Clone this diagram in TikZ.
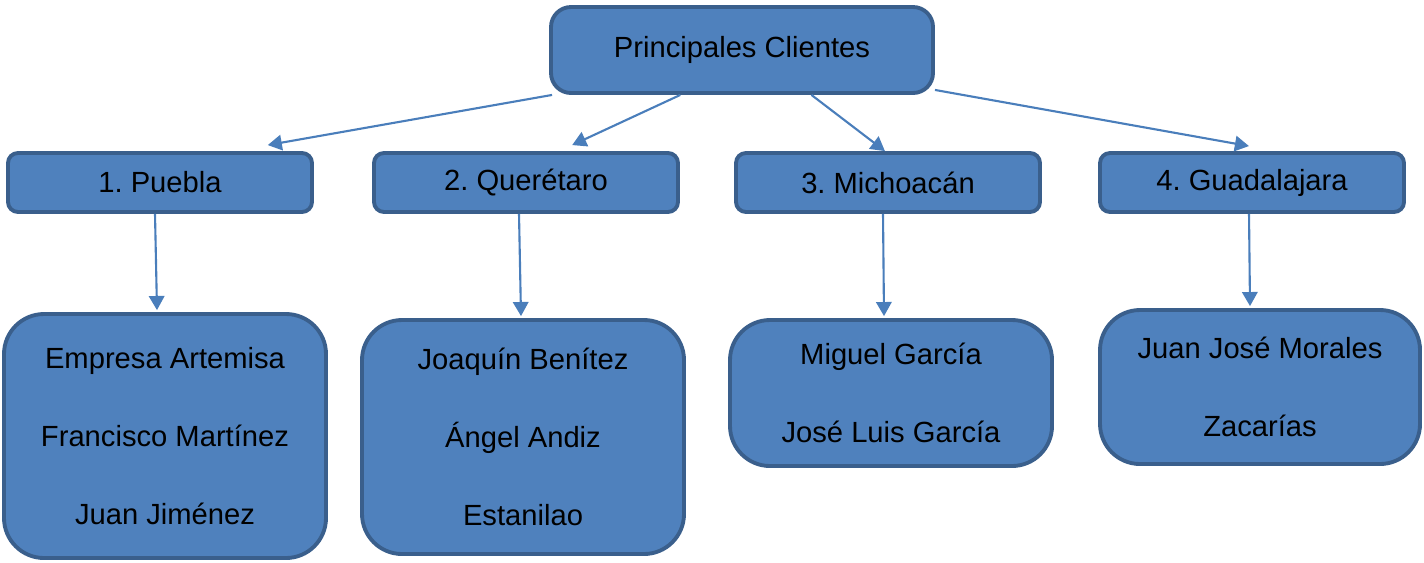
\documentclass[tikz,border=0pt]{standalone}
\usepackage{fontspec}
\setmainfont{Liberation Sans}
\usetikzlibrary{arrows.meta,calc,positioning}
\definecolor{boxfill}{HTML}{4F81BD}
\definecolor{boxline}{HTML}{3A5F8C}
\definecolor{arrline}{HTML}{4A7EBB}
\frenchspacing
\begin{document}
\begin{tikzpicture}[>=Stealth,
    box/.style={draw=boxline,fill=boxfill,line width=1.1pt,align=center,
      font=\fontsize{8.3}{22.2}\selectfont,inner sep=0pt},
    topbox/.style={box,rounded corners=0.2cm,minimum width=3.82cm,minimum height=0.86cm},
    statebox/.style={box,rounded corners=0.1cm,minimum width=3.04cm,minimum height=0.59cm},
    clientbox/.style={box,rounded corners=0.4cm,minimum width=3.22cm},
    arr/.style={->,arrline,line width=0.6pt,>={Triangle[length=4pt,width=4.4pt]}}]
  \useasboundingbox (0,0) rectangle (14.24,-5.62);
  % root
  \node[topbox] (top) at (7.42,-0.50) {Principales Clientes};
  % states
  \node[statebox] (n1) at (1.60,-1.825) {1. Puebla};
  \node[statebox] (n2) at (5.26,-1.825) {2. Querétaro};
  \node[statebox] (n3) at (8.88,-1.825) {3. Michoacán};
  \node[statebox] (n4) at (12.52,-1.825) {4. Guadalajara};
  % clients
  \node[clientbox,minimum height=2.44cm] (c1) at (1.65,-4.36)
     {Empresa Artemisa\\Francisco Martínez\\Juan Jiménez};
  \node[clientbox,minimum height=2.34cm] (c2) at (5.23,-4.37)
     {Joaquín Benítez\\Ángel Andiz\\Estanilao};
  \node[clientbox,minimum height=1.46cm] (c3) at (8.91,-3.93)
     {Miguel García\\José Luis García};
  \node[clientbox,minimum height=1.54cm,minimum width=3.20cm] (c4) at (12.60,-3.87)
     {Juan José Morales\\Zacarías};
  % root to states
  \draw[arr] ([xshift=0.03cm]top.south west)
     -- ($(n1.north west)!0.85!(n1.north east)+(0,0.06)$);
  \draw[arr] ($(top.south west)!0.34!(top.south east)$)
     -- ($(n2.north west)!0.65!(n2.north east)+(0,0.06)$);
  \draw[arr] ($(top.south west)!0.68!(top.south east)$)
     -- ($(n3.north west)!0.49!(n3.north east)$);
  \draw[arr] ([yshift=0.05cm]top.south east)
     -- ($(n4.north west)!0.49!(n4.north east)+(0,0.05)$);
  % states to clients
  \foreach \i/\a/\b in {1/-0.05/-0.08,2/-0.07/-0.02,3/-0.05/-0.07,4/-0.03/-0.10}{
    \draw[arr] ([xshift=\a cm]n\i.south) -- ([xshift=\b cm,yshift=0.02cm]c\i.north);
  }
\end{tikzpicture}
\end{document}
